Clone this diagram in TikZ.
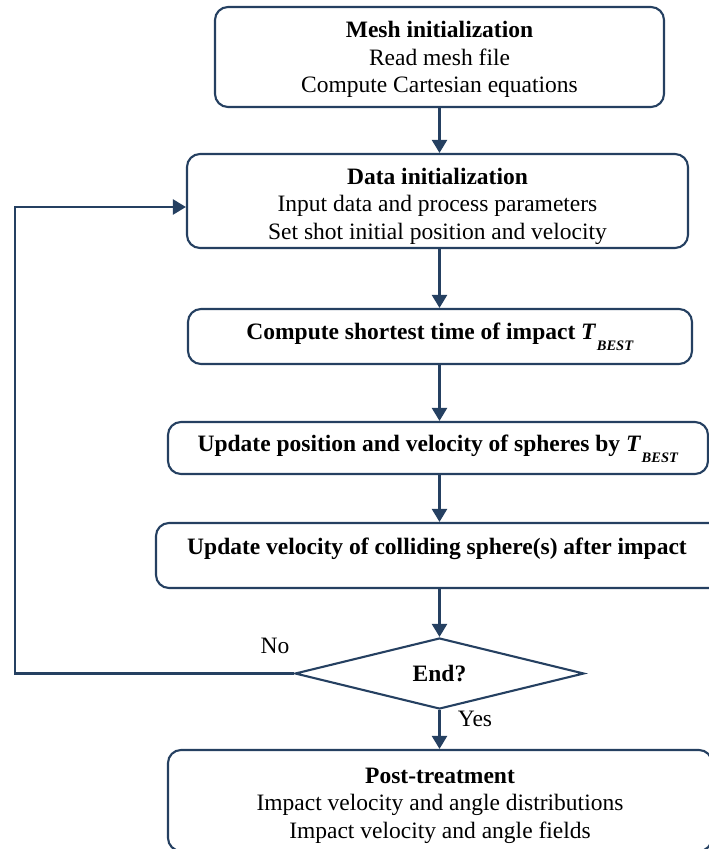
\documentclass[tikz,border=0pt]{standalone}
\usepackage{fontspec}
\setmainfont{Liberation Serif}
\usetikzlibrary{shapes.geometric,arrows.meta}
\definecolor{lc}{RGB}{37,64,97}
\newcommand{\Tbest}{\textit{T}\kern0.5pt\raisebox{-11pt}{\fontsize{14.5pt}{14.5pt}\selectfont\textit{BEST}}}
\begin{document}
\begin{tikzpicture}[x=1pt,y=-1pt,
  box/.style={draw=lc, line width=2.1pt, rounded corners=13pt, inner sep=0pt},
  txt/.style={align=center, font=\fontsize{23.5pt}{27.5pt}\selectfont, inner sep=0pt},
  arr/.style={draw=lc, line width=2.2pt, -{Triangle[width=15pt,length=13pt]}},
  dec/.style={draw=lc, line width=2.1pt, diamond, aspect=4.07, inner sep=0pt, minimum width=289pt, minimum height=71pt}
]
\useasboundingbox (0,0) rectangle (709,849);
\coordinate (ax) at (439.5,0);

\node[box, minimum width=449pt, minimum height=100pt] (b1) at (439.5,57) {};
\node[txt] (t1) at (439.5,59.5) {\textbf{Mesh initialization}\\Read mesh file\\Compute Cartesian equations};

\node[box, minimum width=501pt, minimum height=94pt] (b2) at (437.5,201) {};
\node[txt] (t2) at (437.5,206) {\textbf{Data initialization}\\Input data and process parameters\\Set shot initial position and velocity};

\node[box, minimum width=504pt, minimum height=55pt] (b3) at (440,336.5) {};
\node[txt] (t3) at (440,337) {\textbf{Compute shortest time of impact \Tbest}};

\node[box, minimum width=540pt, minimum height=52pt] (b4) at (438,448) {};
\node[txt] (t4) at (438,449) {\textbf{Update position and velocity of spheres by \Tbest}};

\node[box, minimum width=566pt, minimum height=65pt] (b5) at (439,555.5) {};
\node[txt] (t5) at (437,549) {\textbf{Update velocity of colliding sphere(s) after impact}};

\node[dec] (d) at (439.5,673.5) {};
\node[txt] (td) at (439.5,673.5) {\textbf{End?}};

\node[box, minimum width=544pt, minimum height=101pt] (b6) at (440,800.5) {};
\node[txt] (t6) at (440,805.5) {\textbf{Post-treatment}\\Impact velocity and angle distributions\\Impact velocity and angle fields};

\draw[arr] (ax |- b1.south) -- (ax |- b2.north);
\draw[arr] (ax |- b2.south) -- (ax |- b3.north);
\draw[arr] (ax |- b3.south) -- (ax |- b4.north);
\draw[arr] (ax |- b4.south) -- (ax |- b5.north);
\draw[arr] (ax |- b5.south) -- (d.north);
\draw[arr] (d.south) -- (ax |- b6.north);

\coordinate (c1) at (15,673.5);
\coordinate (c2) at (15,207);
\draw[arr] (d.west) -- (c1) -- (c2) -- (c2 -| b2.west);

\node[txt] (no) at (275,646) {No};
\node[txt] (yes) at (475,719) {Yes};
\end{tikzpicture}
\end{document}
